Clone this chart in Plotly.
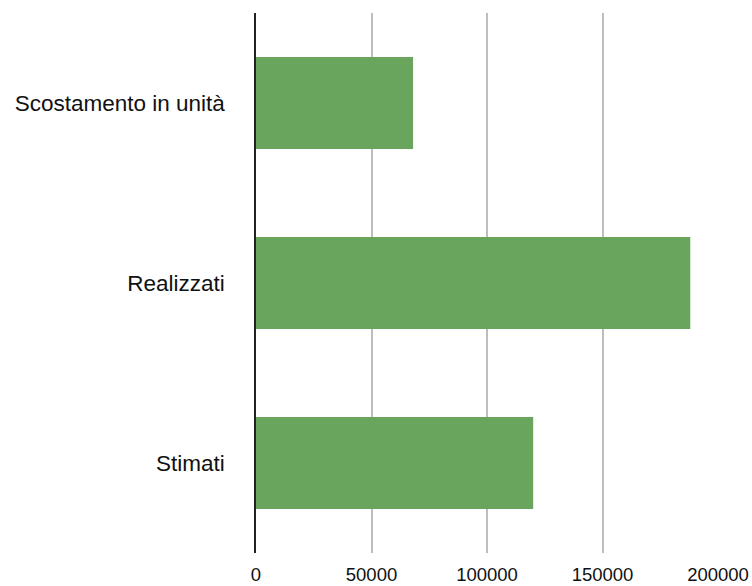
import plotly.graph_objects as go

categories = ["Stimati", "Realizzati", "Scostamento in unità"]
values = [120000, 188000, 68000]
x_ticks = [0, 50000, 100000, 150000, 200000]

fig = go.Figure(go.Bar(
    x=values, y=categories, orientation="h",
    marker=dict(color="#6aa55e", line=dict(width=0)),
    width=0.51,
))

fig.update_layout(
    width=752, height=586,
    margin=dict(l=256, r=34, t=13, b=33),
    plot_bgcolor="white", paper_bgcolor="white",
    font=dict(family="Liberation Sans, Arial, sans-serif", size=18, color="#111111"),
    showlegend=False,
    xaxis=dict(
        range=[0, 200000], tickvals=x_ticks, ticktext=[str(v) for v in x_ticks],
        showgrid=True, gridcolor="#bdbdbd", gridwidth=1.5,
        zeroline=False, showline=False, automargin=False,
        ticks="outside", ticklen=5, tickcolor="rgba(0,0,0,0)",
        tickfont=dict(size=18.5),
    ),
    yaxis=dict(
        range=[-0.5, 2.5], categoryorder="array", categoryarray=categories,
        showgrid=False, zeroline=False, automargin=False,
        showline=True, linecolor="#222222", linewidth=1.5,
        ticks="outside", ticklen=25, tickcolor="rgba(0,0,0,0)",
        tickfont=dict(size=22.5),
    ),
)

fig.write_html(
    "out.html",
    config={"displayModeBar": False},
    post_script="document.body.style.margin='0';document.body.style.overflow='hidden';",
)
